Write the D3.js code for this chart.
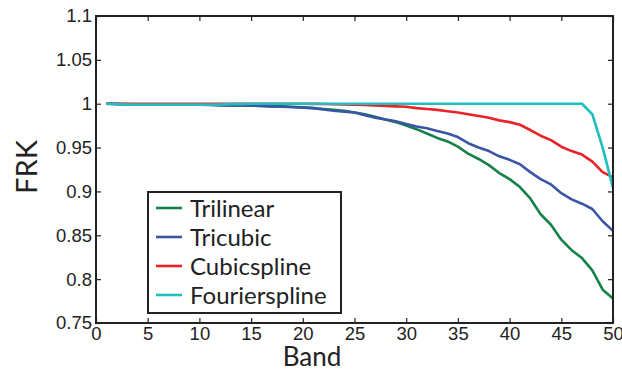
<!DOCTYPE html>
<html>
<head>
<meta charset="utf-8">
<script src="https://d3js.org/d3.v7.min.js"></script>
<style>
body { margin: 0; background: white; }
svg { display: block; font-family: Lato, "Open Sans", sans-serif; }
.tick text { font-size: 18.5px; fill: #222; }
</style>
</head>
<body>
<svg id="chart" width="622" height="372"></svg>
<script>
var bands = [1, 2, 3, 4, 5, 6, 7, 8, 9, 10, 11, 12, 13, 14, 15, 16, 17, 18, 19, 20,
	21, 22, 23, 24, 25, 26, 27, 28, 29, 30, 31, 32, 33, 34, 35, 36, 37, 38, 39, 40,
	41, 42, 43, 44, 45, 46, 47, 48, 49, 50];

var trilinear = [1.000, 1.000, 0.9995, 0.999, 0.999, 0.999, 0.999, 0.999, 0.999, 0.999,
	0.9988, 0.9985, 0.998, 0.998, 0.998, 0.9975, 0.997, 0.997, 0.9965, 0.996,
	0.995, 0.994, 0.993, 0.992, 0.990, 0.988, 0.985, 0.982, 0.979, 0.975,
	0.971, 0.966, 0.961, 0.957, 0.951, 0.943, 0.937, 0.930, 0.921, 0.914,
	0.905, 0.892, 0.874, 0.862, 0.845, 0.833, 0.824, 0.810, 0.788, 0.778];

var tricubic = [1.000, 0.9995, 0.999, 0.999, 0.999, 0.999, 0.999, 0.999, 0.999, 0.9988,
	0.9985, 0.998, 0.998, 0.998, 0.9978, 0.9975, 0.997, 0.9965, 0.996, 0.9955,
	0.995, 0.9935, 0.992, 0.991, 0.990, 0.987, 0.984, 0.982, 0.980, 0.977,
	0.974, 0.972, 0.969, 0.966, 0.962, 0.955, 0.950, 0.946, 0.940, 0.936,
	0.931, 0.922, 0.914, 0.908, 0.898, 0.891, 0.886, 0.880, 0.866, 0.855];

var cubicspline = [1.000, 1.000, 1.000, 1.000, 1.000, 1.000, 1.000, 1.000, 1.000, 1.000,
	1.000, 1.000, 1.000, 1.000, 1.000, 1.000, 1.000, 1.000, 1.000, 1.000,
	0.9998, 0.9996, 0.9994, 0.9992, 0.999, 0.9985, 0.998, 0.9975, 0.997, 0.9965,
	0.995, 0.994, 0.993, 0.9915, 0.990, 0.988, 0.986, 0.984, 0.981, 0.979,
	0.976, 0.970, 0.9635, 0.9585, 0.951, 0.946, 0.942, 0.934, 0.922, 0.916];

var fourierspline = [1.000, 0.9995, 0.999, 0.999, 0.999, 0.999, 0.999, 0.999, 0.999, 0.999,
	0.999, 0.999, 0.9995, 0.9995, 1.000, 1.000, 1.000, 1.000, 1.000, 1.000,
	1.000, 1.000, 1.000, 1.000, 1.000, 1.000, 1.000, 1.000, 1.000, 1.000,
	1.000, 1.000, 1.000, 1.000, 1.000, 1.000, 1.000, 1.000, 1.000, 1.000,
	1.000, 1.000, 1.000, 1.000, 1.000, 1.000, 1.000, 0.988, 0.950, 0.904];

var seriesNames = ["Trilinear", "Tricubic", "Cubicspline", "Fourierspline"];
var seriesValues = [trilinear, tricubic, cubicspline, fourierspline];
var seriesColors = ["#16804a", "#3a55a5", "#ec2229", "#1fbfbf"];

var xTicks = [0, 5, 10, 15, 20, 25, 30, 35, 40, 45, 50];
var yTicks = [0.75, 0.8, 0.85, 0.9, 0.95, 1, 1.05, 1.1];

var svg = d3.select("#chart"),
	plotL = 96, plotR = 613, plotT = 16, plotB = 323;

var x = d3.scaleLinear().domain([0, 50]).range([plotL, plotR]);
var y = d3.scaleLinear().domain([0.75, 1.1]).range([plotB, plotT]);

svg.append("rect")
	.attr("width", 622).attr("height", 372)
	.attr("fill", "white");

// lines
var line = d3.line()
	.x(function (d, i) { return x(bands[i]); })
	.y(function (d) { return y(d); });

seriesValues.forEach(function (vals, k) {
	svg.append("path")
		.datum(vals)
		.attr("d", line)
		.attr("fill", "none")
		.attr("stroke", seriesColors[k])
		.attr("stroke-width", 2.6)
		.attr("stroke-linejoin", "round");
});

// axes, ticks pointing inward
var fmt = function (d) { return String(d); };

svg.append("g")
	.attr("transform", "translate(0," + plotB + ")")
	.call(d3.axisBottom(x).tickValues(xTicks).tickFormat(fmt).tickSizeInner(-5).tickSizeOuter(0).tickPadding(4));

svg.append("g")
	.attr("transform", "translate(0," + plotT + ")")
	.call(d3.axisTop(x).tickValues(xTicks).tickFormat("").tickSizeInner(-5).tickSizeOuter(0));

svg.append("g")
	.attr("transform", "translate(" + plotL + ",0)")
	.call(d3.axisLeft(y).tickValues(yTicks).tickFormat(fmt).tickSizeInner(-5).tickSizeOuter(0).tickPadding(4));

svg.append("g")
	.attr("transform", "translate(" + plotR + ",0)")
	.call(d3.axisRight(y).tickValues(yTicks).tickFormat("").tickSizeInner(-5).tickSizeOuter(0));

svg.selectAll(".domain").remove();
svg.selectAll(".tick line").attr("stroke", "#222").attr("stroke-width", 1.2);

svg.append("rect")
	.attr("x", plotL).attr("y", plotT)
	.attr("width", plotR - plotL).attr("height", plotB - plotT)
	.attr("fill", "none")
	.attr("stroke", "#222")
	.attr("stroke-width", 2);

// axis labels
svg.append("text")
	.attr("x", 312).attr("y", 366)
	.attr("text-anchor", "middle")
	.style("font-size", "26px")
	.attr("fill", "#222")
	.text("Band");

svg.append("text")
	.attr("transform", "translate(37,167) rotate(-90)")
	.attr("text-anchor", "middle")
	.style("font-size", "29px")
	.attr("fill", "#222")
	.text("FRK");

// legend
var legend = svg.append("g");
legend.append("rect")
	.attr("x", 148).attr("y", 192)
	.attr("width", 193).attr("height", 121)
	.attr("fill", "white")
	.attr("stroke", "#222")
	.attr("stroke-width", 2);

seriesNames.forEach(function (name, k) {
	var ly = 208 + k * 29;
	legend.append("line")
		.attr("x1", 156).attr("x2", 182)
		.attr("y1", ly).attr("y2", ly)
		.attr("stroke", seriesColors[k])
		.attr("stroke-width", 2.6);
	legend.append("text")
		.attr("x", 190).attr("y", ly + 8.5)
		.style("font-size", "24px")
		.attr("fill", "#222")
		.text(name);
});
</script>
</body>
</html>
